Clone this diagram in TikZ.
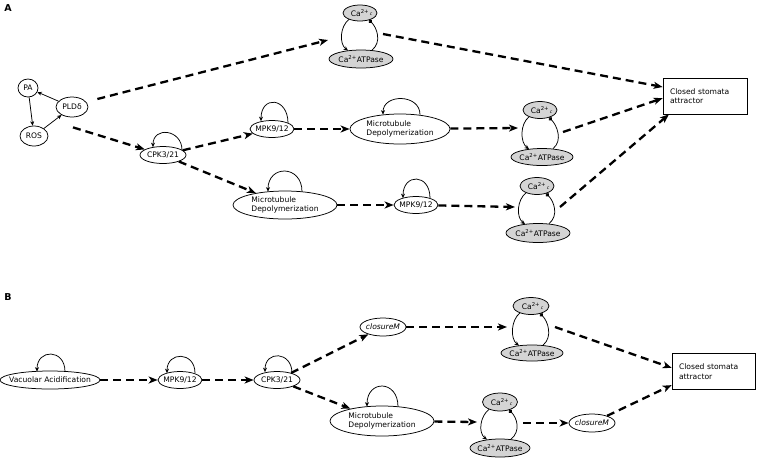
\documentclass[tikz,border=0pt]{standalone}
\usepackage{fontspec}
\setmainfont{DejaVu Sans}
\usetikzlibrary{arrows.meta,calc,shapes.geometric}

\begin{document}
\begin{tikzpicture}[
  x=1pt, y=-1pt,
  font=\fontsize{7.6}{9.6}\selectfont,
  ell/.style 2 args={draw, ellipse, line width=0.75pt, inner sep=0pt,
                     minimum width=#1pt, minimum height=#2pt},
  ca/.style 2 args={ell={#1}{#2}, fill=black!17},
  goal/.style={draw, line width=0.75pt, text width=70pt, align=left,
               inner xsep=7pt, minimum height=36pt},
  panel/.style={font=\fontsize{9.5}{10}\selectfont\bfseries, inner sep=0pt},
  thinarr/.style={-{Stealth[length=4.5pt, width=4pt]}, line width=0.75pt},
  dasharr/.style={-{Stealth[length=9pt, width=7pt, inset=2.5pt]},
                  line width=2.3pt, dash pattern=on 8pt off 5pt},
  inhib/.style={-{Circle[length=4pt]}, line width=0.75pt},
  mark c/.style={font=\fontsize{4.5}{5}\selectfont\itshape, inner sep=0pt},
]
  \useasboundingbox (0,0) rectangle (758,459);

  % ---- panel A ----
  \node[panel] (lblA) at (8,8) {A};

  \node[ell={20}{18}] (pa)  at (28,88)  {\makebox[0pt]{PA}};
  \node[ell={32}{20}] (pld) at (72,107) {\makebox[0pt]{PLDδ}};
  \node[ell={28}{20}] (ros) at (34,136) {\makebox[0pt]{ROS}};

  \draw[thinarr] (pa) -- (ros);
  \draw[thinarr] (ros) -- (pld);
  \draw[thinarr] (pld) -- (pa);

  \node[ell={46}{17}] (cpka) at (163,155) {\makebox[0pt]{CPK3/21}};
  \node[ell={44}{17}] (mpka) at (272,129) {\makebox[0pt]{MPK9/12}};
  \node[ell={100}{30}] (mta) at (400,129)
    {\makebox[0pt]{\begin{tabular}{@{}l@{}}Microtubule\\Depolymerization\end{tabular}}};
  \node[ell={104}{28}] (mtb) at (285,205)
    {\makebox[0pt]{\begin{tabular}{@{}l@{}}Microtubule\\Depolymerization\end{tabular}}};
  \node[ell={44}{17}] (mpkb) at (416,205) {\makebox[0pt]{MPK9/12}};

  \node[ca={34}{16}] (ca1top) at (360,13)  {\makebox[0pt]{Ca\textsuperscript{2+}}};
  \node[ca={64}{18}] (ca1bot) at (361,59)  {\makebox[0pt]{Ca\textsuperscript{2+}ATPase}};
  \node[ca={34}{17}] (ca2top) at (540,110) {\makebox[0pt]{Ca\textsuperscript{2+}}};
  \node[ca={62}{17}] (ca2bot) at (542,157) {\makebox[0pt]{Ca\textsuperscript{2+}ATPase}};
  \node[ca={34}{17}] (ca3top) at (537,186) {\makebox[0pt]{Ca\textsuperscript{2+}}};
  \node[ca={64}{19}] (ca3bot) at (538,233) {\makebox[0pt]{Ca\textsuperscript{2+}ATPase}};

  \node[goal] (boxa) at (705,96) {Closed stomata\\attractor};

  % ---- panel B ----
  \node[panel] (lblB) at (8,297) {B};

  \node[ell={100}{18}] (vac) at (50,380) {\makebox[0pt]{Vacuolar Acidification}};
  \node[ell={44}{17}] (mpkc) at (180,380) {\makebox[0pt]{MPK9/12}};
  \node[ell={46}{17}] (cpkb) at (277,380) {\makebox[0pt]{CPK3/21}};
  \node[ell={46}{18}] (clma) at (383,327) {\makebox[0pt]{\itshape closureM}};
  \node[ell={104}{30}] (mtc) at (382,421)
    {\makebox[0pt]{\begin{tabular}{@{}l@{}}Microtubule\\Depolymerization\end{tabular}}};
  \node[ell={46}{18}] (clmb) at (592,423) {\makebox[0pt]{\itshape closureM}};

  \node[ca={36}{17}] (ca4top) at (531,306) {\makebox[0pt]{Ca\textsuperscript{2+}}};
  \node[ca={62}{16}] (ca4bot) at (532,353) {\makebox[0pt]{Ca\textsuperscript{2+}ATPase}};
  \node[ca={35}{18}] (ca5top) at (500,402) {\makebox[0pt]{Ca\textsuperscript{2+}}};
  \node[ca={60}{18}] (ca5bot) at (500,448) {\makebox[0pt]{Ca\textsuperscript{2+}ATPase}};

  \node[goal, text width=69pt] (boxb) at (713.5,371.5) {Closed stomata\\attractor};

  % Ca2+ / ATPase feedback loops
  \foreach \m in {ca1,ca2,ca3,ca4,ca5}{
    \draw[thinarr] ($(\m top.south)+(-11,-2)$) .. controls +(-9,7) and +(-9,-7)
      .. ($(\m bot.north)+(-13,1)$);
    \draw[inhib] ($(\m bot.north)+(11,0.5)$) .. controls +(10,-8) and +(8,8)
      .. ($(\m top.south)+(9,-1.5)$);
    \node[mark c] (\m c) at ($(\m top.south)+(11,-7)$) {c};
  }

  % self loops
  \draw[thinarr] ($(cpka.north)+(19,4)$) .. controls +(0,-21) and +(0,-21) .. ($(cpka.north)+(-10,1)$);
  \draw[thinarr] ($(mpka.north)+(16,3)$) .. controls +(0,-26) and +(0,-26) .. ($(mpka.north)+(-11,1)$);
  \draw[thinarr] ($(mta.north)+(20,1)$) .. controls +(0,-21) and +(0,-21) .. ($(mta.north)+(-17,1)$);
  \draw[thinarr] ($(mtb.north)+(17,1)$) .. controls +(0,-27) and +(0,-27) .. ($(mtb.north)+(-17,1)$);
  \draw[thinarr] ($(mpkb.north)+(14,2)$) .. controls +(0,-25) and +(0,-25) .. ($(mpkb.north)+(-13,2)$);
  \draw[thinarr] ($(vac.north)+(15,1)$) .. controls +(0,-23) and +(0,-23) .. ($(vac.north)+(-13,1)$);
  \draw[thinarr] ($(mpkc.north)+(15,2)$) .. controls +(0,-22) and +(0,-22) .. ($(mpkc.north)+(-13,2)$);
  \draw[thinarr] ($(cpkb.north)+(15,2)$) .. controls +(0,-22) and +(0,-22) .. ($(cpkb.north)+(-12,1)$);
  \draw[thinarr] ($(mtc.north)+(16,1)$) .. controls +(0,-27) and +(0,-27) .. ($(mtc.north)+(-15,1)$);

  % module entry / exit points
  \coordinate (ca1in) at (328,40);  \coordinate (ca1out) at (383,34);
  \coordinate (ca2in) at (518,128); \coordinate (ca2out) at (563,132);
  \coordinate (ca3in) at (515,207); \coordinate (ca3out) at (560,207);
  \coordinate (ca4in) at (507,327); \coordinate (ca4out) at (555,327);
  \coordinate (ca5in) at (477,422); \coordinate (ca5out) at (523,423);

  % dashed transitions, A
  \draw[dasharr] ($(pld.east)+(9,-8)$) -- (ca1in);
  \draw[dasharr] ($(pld.south)+(1,10)$) -- (cpka);
  \draw[dasharr] (cpka) -- (mpka);
  \draw[dasharr] (mpka) -- (mta);
  \draw[dasharr] (mta) -- (ca2in);
  \draw[dasharr] (cpka) -- (mtb);
  \draw[dasharr] (mtb) -- (mpkb);
  \draw[dasharr] (mpkb) -- (ca3in);
  \draw[dasharr] (ca1out) -- (boxa.168);
  \draw[dasharr] (ca2out) -- (boxa.183);
  \draw[dasharr] (ca3out) -- (boxa.207);

  % dashed transitions, B
  \draw[dasharr] (vac) -- (mpkc);
  \draw[dasharr] (mpkc) -- (cpkb);
  \draw[dasharr] (cpkb) -- (clma);
  \draw[dasharr] (cpkb) -- (mtc);
  \draw[dasharr] (clma) -- (ca4in);
  \draw[dasharr] (mtc) -- (ca5in);
  \draw[dasharr] (ca5out) -- (clmb);
  \draw[dasharr] (ca4out) -- (boxb.175);
  \draw[dasharr] (clmb) -- (boxb.198);
\end{tikzpicture}
\end{document}
